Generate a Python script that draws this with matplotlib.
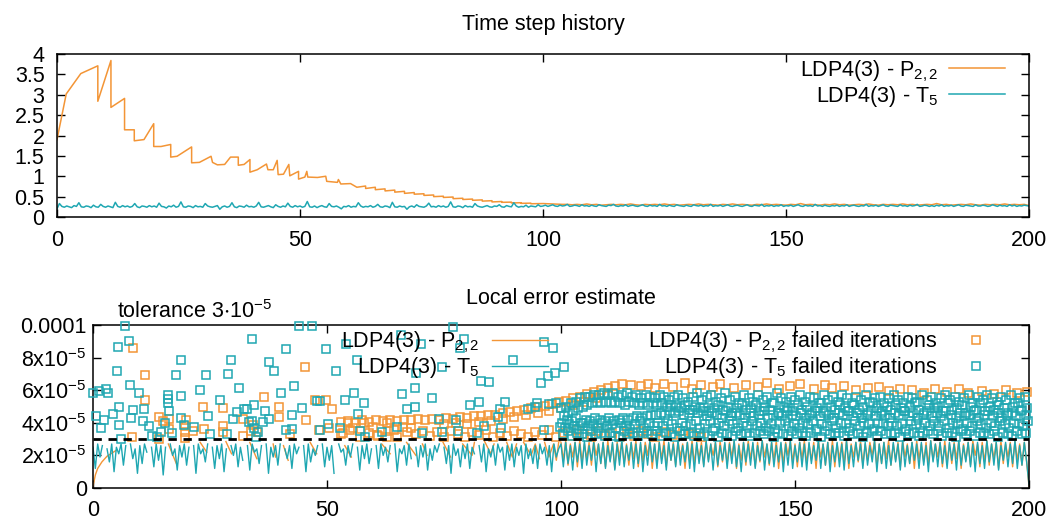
import numpy as np
import matplotlib
matplotlib.use('Agg')
import matplotlib.pyplot as plt

plt.rcParams['font.family'] = ['Liberation Sans', 'DejaVu Sans']
plt.rcParams['mathtext.fontset'] = 'custom'
plt.rcParams['mathtext.rm'] = 'Liberation Sans'
plt.rcParams['mathtext.it'] = 'Liberation Sans:italic'
plt.rcParams['mathtext.bf'] = 'Liberation Sans:bold'
plt.rcParams['mathtext.default'] = 'regular'

# ---------------- data: time step history ----------------
# P2,2 : (t, dt) vertices of the sawtooth
p22_dt_pts = [
    (0.0, 1.90), (1.9, 3.02), (4.9, 3.52), (8.4, 3.71), (8.4, 2.84), (11.1, 3.84), (11.1, 2.69),
    (13.9, 2.91), (13.9, 2.14), (15.9, 2.14), (15.9, 1.87), (17.9, 1.90), (19.9, 2.29), (19.9, 1.73),
    (21.4, 1.73), (23.4, 1.78), (23.4, 1.47), (24.7, 1.49), (27.7, 1.72), (27.7, 1.33), (29.3, 1.34),
    (31.7, 1.49), (32.0, 1.34), (33.0, 1.28), (34.5, 1.29), (35.7, 1.47), (37.3, 1.47), (37.3, 1.27),
    (38.5, 1.29), (39.7, 1.41), (39.7, 1.10), (41.2, 1.16), (43.1, 1.30), (43.4, 1.16), (44.5, 1.16),
    (45.3, 1.39), (45.5, 1.04), (46.6, 1.05), (47.7, 1.29), (47.9, 1.01), (49.7, 1.12), (49.7, 0.93),
    (51.0, 0.98), (51.4, 1.12), (51.6, 0.98), (53.6, 0.97), (55.3, 1.00), (55.5, 0.875), (57.7, 0.85),
    (57.9, 0.92), (58.4, 0.81), (60.4, 0.82), (61.7, 0.73), (63.5, 0.76), (63.5, 0.70), (65.5, 0.73),
    (65.5, 0.67), (67.5, 0.69), (67.5, 0.64), (69.5, 0.66), (69.5, 0.61), (71.5, 0.63), (71.5, 0.58),
    (73.5, 0.60), (73.5, 0.56), (75.5, 0.57), (75.5, 0.53), (77.5, 0.54), (77.5, 0.50), (79.5, 0.51),
    (79.5, 0.48), (81.5, 0.49), (81.5, 0.45), (83.5, 0.46), (83.5, 0.43), (85.5, 0.44), (85.5, 0.41),
    (87.5, 0.42), (87.5, 0.39), (89.5, 0.40), (89.5, 0.37), (91.5, 0.38), (91.5, 0.36), (93.5, 0.365),
    (93.5, 0.345), (95.5, 0.35), (95.5, 0.335), (97.5, 0.34), (97.5, 0.325), (100.0, 0.33),
    (102.0, 0.32), (104.0, 0.31)]
# P2,2 dt (x100) for t = 105 ... 200
p22_dt_tail = [
    31, 30, 31, 30, 32, 30, 31, 29, 30, 31, 30, 31, 30, 32, 30, 29, 31, 30, 31, 30,
    32, 30, 31, 29, 30, 31, 30, 32, 30, 31, 30, 29, 31, 30, 32, 30, 31, 30, 29, 31,
    30, 32, 30, 31, 30, 29, 31, 30, 33, 30, 31, 30, 29, 31, 30, 32, 30, 31, 29, 30,
    31, 30, 32, 30, 29, 31, 30, 31, 30, 32, 30, 31, 29, 30, 31, 30, 33, 30, 31, 29,
    30, 31, 30, 32, 30, 29, 31, 30, 31, 30, 32, 30, 31, 30, 31, 28]
# T5 dt (x100), every 0.5 time units from 0 to 200
t5_dt = [
    20, 33, 26, 24, 27, 25, 23, 28, 26, 35, 25, 24, 27, 26, 23, 29, 25, 24, 31, 26,
    24, 27, 25, 23, 36, 26, 24, 28, 25, 27, 24, 26, 33, 25, 23, 27, 26, 24, 28, 25,
    27, 24, 34, 26, 25, 22, 27, 25, 29, 24, 26, 37, 25, 24, 27, 26, 23, 28, 25, 26,
    24, 33, 27, 25, 24, 26, 28, 19, 25, 27, 24, 26, 35, 25, 23, 27, 26, 24, 29, 25,
    26, 24, 27, 36, 25, 24, 26, 28, 25, 23, 30, 26, 24, 27, 25, 34, 26, 24, 28, 25,
    27, 24, 26, 38, 25, 24, 27, 23, 26, 28, 25, 24, 33, 26, 25, 27, 24, 20, 26, 25,
    28, 24, 26, 25, 35, 27, 24, 26, 25, 28, 24, 26, 31, 25, 24, 27, 26, 23, 36, 25,
    24, 27, 25, 26, 19, 25, 27, 24, 30, 26, 25, 24, 27, 34, 25, 26, 24, 28, 25, 27,
    24, 26, 37, 25, 24, 27, 26, 23, 28, 25, 26, 24, 33, 27, 25, 24, 26, 28, 25, 24,
    27, 26, 30, 25, 24, 28, 26, 25, 35, 27, 24, 26, 25, 29, 24, 27, 26, 25, 30, 26,
    27, 29, 26, 28, 30, 27, 26, 29, 27, 28, 31, 26, 27, 29, 28, 26, 30, 27, 28, 26,
    29, 27, 26, 30, 28, 27, 26, 29, 28, 31, 27, 26, 28, 27, 30, 26, 28, 29, 27, 26,
    28, 30, 27, 26, 29, 27, 28, 26, 31, 27, 28, 26, 29, 27, 26, 30, 28, 27, 26, 29,
    27, 26, 30, 28, 27, 29, 26, 28, 27, 31, 26, 28, 27, 29, 26, 28, 30, 27, 26, 28,
    29, 27, 26, 28, 30, 27, 26, 29, 28, 27, 31, 26, 28, 27, 29, 26, 28, 27, 30, 26,
    28, 27, 29, 26, 28, 30, 27, 26, 29, 27, 28, 26, 31, 27, 28, 26, 29, 27, 26, 28,
    27, 29, 26, 28, 27, 30, 26, 28, 29, 27, 26, 28, 27, 31, 26, 28, 27, 29, 26, 28,
    30, 27, 26, 29, 28, 27, 26, 30, 27, 28, 26, 29, 27, 28, 31, 26, 27, 29, 28, 26,
    28, 26, 29, 27, 30, 26, 28, 27, 29, 26, 28, 30, 27, 26, 29, 28, 27, 26, 30, 27,
    27, 29, 28, 26, 27, 30, 28, 26, 29, 27, 28, 26, 30, 27, 29, 26, 28, 27, 29, 28, 27]

# ---------------- data: local error estimate (units of 1e-6) ----------------
tolerance = 3e-5
p22_err_segments = [
    [(0, 1), (0.5, 8), (1, 12), (1.9, 16), (3, 19.5), (4.9, 23)],
    [(16.1, 27), (17.8, 15)], [(22.9, 28), (24.3, 22)], [(28.4, 28.5), (29.6, 21)],
    [(33.5, 28), (35, 18)], [(38.5, 27), (39, 19)], [(40.7, 26), (41.7, 17)],
    [(46.4, 28), (47.8, 21)], [(53.8, 26), (55.2, 19)], [(61.7, 27), (63.5, 21)],
    [(67, 28), (69, 20)], [(70.4, 27), (71.4, 20)], [(74.8, 28), (76.4, 19)],
    [(79, 27), (81, 20), (81.5, 28)], [(83.6, 29), (85, 21), (85.7, 27)],
    [(88.4, 28), (89.6, 19), (90.5, 27)], [(92, 28), (93.6, 20), (94.5, 27), (95.4, 18)],
    [(96.5, 28), (97.4, 19), (98.4, 27), (99, 17), (99.5, 28)]]
# P2,2 error, every 0.5 from t = 100 to 200
p22_err_tail = [
    28, 17, 29, 14, 27, 19, 28, 13, 29, 16, 27, 18, 28, 14, 29, 20, 27, 15, 28, 13,
    29, 17, 27, 12, 28, 19, 29, 15, 27, 14, 28, 18, 29, 13, 27, 16, 28, 20, 29, 12,
    27, 15, 28, 18, 29, 13, 27, 17, 28, 14, 29, 19, 27, 12, 28, 16, 29, 15, 27, 18,
    28, 14, 29, 17, 27, 20, 28, 13, 29, 16, 27, 15, 28, 19, 29, 12, 27, 17, 28, 14,
    29, 18, 27, 13, 28, 16, 29, 19, 27, 14, 28, 17, 29, 12, 27, 15, 28, 20, 29, 16,
    27, 13, 28, 18, 29, 15, 27, 17, 28, 12, 29, 19, 27, 14, 28, 16, 29, 13, 27, 18,
    28, 15, 29, 12, 27, 19, 28, 16, 29, 14, 27, 17, 28, 20, 29, 13, 27, 15, 28, 18,
    29, 14, 27, 17, 28, 13, 29, 19, 27, 15, 28, 12, 29, 18, 27, 16, 28, 14, 29, 17,
    27, 19, 28, 13, 29, 16, 27, 15, 28, 18, 29, 12, 27, 17, 28, 14, 29, 20, 27, 13,
    28, 16, 29, 14, 27, 18, 28, 12, 29, 15, 27, 19, 28, 13, 29, 17, 27, 14, 28, 16, 1]
# T5 error, every 0.5 from t = 0 to 200 (None = no accepted value)
t5_err = [
    25, 12, 27, 19, 26, None, 24, 16, 27, 10, 25, 21, 27, 14, 26, None, 27, 18, 24, 9,
    26, 15, 27, 22, None, 25, 13, 27, 17, 26, 8, 25, None, 27, 20, 24, 11, 26, 19, 27,
    14, 25, None, 26, 9, 27, 21, 24, 16, 27, None, 25, 12, 26, 18, 27, 10, 24, None, 26,
    20, 27, 13, 25, 17, None, 26, 11, 27, 22, 24, 15, 26, None, 27, 9, 25, 19, 26, 14,
    27, None, 24, 18, 26, 12, 27, 21, 25, None, 26, 10, 27, 16, 24, 20, 26, None, 27, 13,
    25, 17, 26, 9, None, 27, 22, 24, 14, 26, 19, 27, None, 25, 11, 26, 18, 27, 15, 24,
    None, 26, 12, 27, 20, 25, 16, 26, None, 27, 10, 24, 21, 26, 14, 27, 18, None, 25, 13,
    26, 19, 27, 11, 24, 17, 26, 22, 27, None, 25, 15, 26, 9, 27, 20, 24, 13, 26, 18,
    27, 12, 25, 21, None, 26, 16, 27, 10, 24, 19, 26, 14, 27, 22, 25, 11, 26, 17, 27,
    13, 25, 20, 26, 9, 27, 18, 24, 15, 26, 12, 27, 21, 25, 14, 26, 10, 27, 19, 24,
    27, 13, 28, 15, 26, 11, 28, 16, 27, 12, 29, 14, 26, 17, 28, 10, 27, 15, 28, 12,
    26, 16, 28, 11, 27, 14, 29, 13, 26, 17, 28, 12, 27, 15, 28, 10, 26, 14, 29, 16,
    27, 12, 28, 15, 26, 11, 28, 17, 27, 13, 29, 14, 26, 16, 28, 12, 27, 10, 28, 15,
    26, 13, 29, 16, 27, 11, 28, 14, 26, 17, 28, 12, 27, 15, 29, 13, 26, 10, 28, 16,
    27, 14, 28, 12, 26, 17, 29, 11, 27, 15, 28, 13, 26, 16, 28, 10, 27, 14, 29, 12,
    26, 16, 28, 13, 27, 11, 28, 15, 26, 17, 29, 12, 27, 14, 28, 10, 26, 16, 28, 13,
    27, 11, 29, 15, 26, 13, 28, 17, 27, 12, 28, 14, 26, 16, 29, 10, 27, 15, 28, 12,
    26, 14, 28, 16, 27, 11, 29, 13, 26, 15, 28, 17, 27, 12, 28, 14, 26, 10, 29, 16,
    27, 13, 28, 15, 26, 12, 28, 17, 27, 11, 29, 14, 26, 16, 28, 13, 27, 10, 28, 15,
    26, 12, 29, 16, 27, 14, 28, 11, 26, 17, 28, 13, 27, 15, 29, 12, 26, 14, 28, 16, 2]

# failed iterations (t, err x1e6)
p22_fail_pts = [
    (8.3, 31.1), (8.5, 85.9), (11.1, 69.1), (11.2, 54), (14.1, 43.8), (14.2, 30.3), (14.9, 40.9),
    (16.2, 36.2), (16.3, 42.3), (19.7, 38.2), (19.7, 34.2), (19.7, 30.5), (19.9, 41.7), (21.3, 35),
    (23.4, 49.5), (23.8, 36.2), (27.7, 49.1), (27.8, 38.2), (27.8, 34.6), (32, 31.9), (32, 42.5),
    (33.8, 35.2), (34.1, 38.7), (35, 34.6), (36.5, 55.6), (39.7, 49.9), (39.7, 43.8), (42.1, 32.9),
    (45.4, 74), (45.5, 41.7), (47.5, 54), (48.3, 35.6), (49.7, 54.2), (50.4, 36.6), (51, 48.7),
    (53.5, 33.5), (54.4, 39.7), (55.5, 36.6), (57.9, 39.7), (59.9, 37.6), (60.6, 32.5),
    (62.8, 39.7), (62.8, 31.5), (64.3, 35.6), (66.3, 37.6), (68, 36.6),
    (53, 40.5), (54.5, 41), (56, 40), (57.5, 41.5), (59, 40.5), (60.5, 41.5), (62, 41), (63.5, 42),
    (65, 41), (66.5, 42), (68, 41.5), (69.5, 42.5), (71, 41.5), (72.5, 42.5), (74, 42), (75.5, 43),
    (77, 42.5), (78.5, 43.5), (80, 43), (81.5, 44), (83, 44), (84.5, 44.5), (86, 45), (87.5, 46),
    (89, 46.5), (90.5, 47.5), (92, 48), (93.5, 49), (95, 49.5), (96.5, 50.5), (98, 51.5),
    (99.5, 52.5), (101, 53.5), (102.5, 55), (104, 56), (105.5, 57.5), (107, 59), (108.5, 60),
    (110, 61.5), (111.5, 62.5), (113, 63.5),
    (75, 39.5), (77.5, 40), (80, 39.5), (82.5, 40.5), (85, 41), (87.5, 42.5), (90, 43.5),
    (92.5, 45), (95, 46), (97.5, 47.5), (100, 49), (102.5, 51), (105, 53), (107.5, 55.5), (110, 57.5),
    (53, 33), (55, 35.5), (57, 31.5), (59, 34), (61, 32), (63, 35), (65, 31.5), (67, 34.5),
    (69, 33), (70.5, 35), (72, 32), (73.5, 34.5), (75, 31.5), (76.5, 35), (78, 33), (79.5, 31),
    (81, 34.5), (82.5, 32.5), (84, 35.5), (85.5, 31.5), (87, 34), (88.5, 32), (90, 35), (91.5, 33),
    (93, 31), (94.5, 34.5), (96, 32.5), (97.5, 35.5), (99, 31.5), (100.5, 34), (102, 32),
    (103.5, 35.5), (105, 33), (106.5, 31.5), (108, 35), (109.5, 32.5), (111, 34), (112.5, 31.5),
    (114, 34.5), (115.5, 32), (117, 35), (118.5, 33), (120, 31.5), (122, 34.5), (124, 32.5),
    (126, 35), (128, 33), (130, 31.5),
    (115, 63), (117, 62.5), (118.5, 64), (120, 61.5), (122, 63.5), (124, 62), (126.5, 64.5),
    (128, 61), (130, 63), (132.5, 62), (134, 64), (137, 61.5), (139.5, 63), (142, 62), (144, 64.5),
    (146.5, 61), (149, 62.5), (151, 63.5), (154, 60.5), (156.5, 63), (158, 61.5), (160.5, 62.5),
    (163, 60), (165.5, 61.5), (168, 62), (170, 59.5), (172.5, 61), (175, 60), (177.5, 58.5),
    (180, 61), (182.5, 59), (185, 60.5), (187, 58), (190, 59.5), (192.5, 57.5), (195, 60),
    (197.5, 58.5), (199.5, 59)]

t5_fail_pts = [
    (0, 58), (0.7, 44), (1.35, 59.5), (1.8, 36.6), (2.3, 41.5), (2.7, 60.5), (3.1, 58.5), (4.3, 45.6),
    (5.05, 71.6), (5.3, 86.7), (5.5, 38.9), (5.6, 49.9), (6.05, 30), (6.77, 99.4), (7.6, 90.4),
    (7.9, 63.4), (8.2, 43.1), (8.5, 47.6), (9.9, 58.3), (10.7, 40.9), (10.8, 48.5), (11.9, 38),
    (12.5, 31.7), (13.7, 31.3), (14.5, 34.6), (15.3, 39.7), (16, 57), (16, 54.4), (16, 52),
    (16.3, 47.2), (16.8, 33.7), (17.8, 69.1), (18.7, 56.4), (18.9, 78.3), (18.9, 43.1), (19.4, 38.4),
    (21.5, 37.2), (22.8, 59.9), (24.2, 69.1), (24.5, 44), (25, 33.3), (27.2, 54), (28.6, 33.3),
    (28.8, 70.1), (29.5, 78.3), (30, 42.1), (30.7, 46.6), (31.3, 61.5), (32.3, 48.3), (33, 48.3),
    (33.3, 40.7), (34, 91.4), (34.4, 50.7), (34.4, 37), (34.8, 31.3), (35.2, 34.6),
    (33.9, 41.3), (36.3, 40.5), (36.8, 47.4), (37.6, 77.1), (37.7, 42.3), (38.7, 71.8), (40.2, 58.5),
    (41.2, 85.1), (41.2, 35.6), (42.6, 44.6), (42.6, 36.4), (42.9, 62.6), (44.1, 99.6), (44.7, 49.3),
    (46.8, 99.6), (47.8, 53.4), (48.4, 53.4), (48.6, 35.4), (49.8, 85.1), (50.3, 39.3), (51.9, 71.8),
    (52.7, 36.6), (53.8, 54), (54, 88.3), (55.8, 58), (56.5, 78.5), (56.7, 45.6), (57, 34.8),
    (57.9, 51.9), (58.1, 31.1), (61.7, 34.4), (64.9, 37.6), (65.8, 93.9), (66, 57.7), (67, 48.3),
    (68.7, 49.9), (68.7, 61.6), (69, 70.8), (70.1, 88.1), (70.3, 33.9), (72.5, 55), (73.9, 42.1),
    (74.5, 74), (74.6, 34.6), (76.9, 99), (77.6, 41.7), (77.9, 35.2), (78.4, 85.7), (79.3, 91.4),
    (80.6, 50.7), (82, 33.5), (82.4, 52.8), (82.9, 65.6), (83.6, 38), (84.7, 65.2), (86.6, 43.4),
    (86.9, 48.3), (87.2, 37), (88.1, 52.8), (89.7, 78.3), (93, 48.5), (94.5, 50), (94.9, 51.9),
    (95.7, 64.4), (96.3, 35.6), (96.4, 89.4), (97.3, 68.7), (97.5, 51.5), (98.2, 85.9), (98.8, 70.6),
    (99, 52), (99.8, 37.6), (100.6, 74.2)]

# dense T5 failed iterations, one value per unit t = 100 ... 199, in five bands
t5_fail_hi = [
    49, 50, 52, 53, 55, 56, 56, 57, 57, 58, 57, 58, 56, 57, 58, 56, 57, 55, 57, 56,
    55, 57, 56, 54, 56, 57, 55, 53, 56, 58, 54, 56, 57, 53, 55, 58, 54, 56, 52, 57,
    55, 53, 57, 54, 56, 52, 58, 55, 53, 56, 54, 57, 53, 56, 55, 52, 57, 54, 56, 53,
    57, 55, 52, 56, 54, 57, 53, 55, 56, 52, 55, 57, 54, 52, 56, 55, 53, 57, 54, 56,
    52, 55, 57, 54, 56, 53, 55, 57, 52, 56, 54, 57, 55, 53, 56, 54, 57, 52, 55, 56]
t5_fail_hi2 = [
    44, 46, 47, 49, 50, 51, 52, 53, 52, 53, 52, 53, 52, 51, 53, 52, 51, 52, 51, 52,
    51, 52, 50, 51, 50, 49, 51, 48, 50, 49, 50, 47, 49, 51, 48, 50, 46, 49, 51, 48,
    49, 51, 47, 50, 48, 52, 46, 50, 49, 47, 51, 48, 50, 46, 49, 52, 47, 50, 48, 51,
    49, 47, 51, 48, 50, 46, 52, 49, 47, 50, 48, 51, 49, 47, 50, 52, 48, 46, 51, 49,
    50, 47, 52, 48, 49, 51, 46, 50, 48, 52, 47, 50, 48, 51, 49, 46, 50, 52, 48, 49]
t5_fail_mid = [
    40, 42, 41, 43, 40, 42, 41, 43, 42, 41, 43, 41, 42, 43, 42, 43, 44, 43, 44, 45,
    45, 46, 45, 47, 46, 47, 45, 46, 48, 46, 47, 44, 46, 45, 43, 47, 44, 46, 45, 43,
    46, 44, 45, 47, 43, 45, 46, 44, 47, 45, 44, 46, 43, 45, 47, 44, 46, 45, 43, 46,
    45, 47, 44, 46, 43, 45, 47, 44, 46, 45, 43, 46, 45, 47, 44, 46, 43, 45, 47, 44,
    46, 44, 47, 45, 43, 46, 44, 45, 47, 43, 45, 47, 44, 46, 43, 45, 46, 44, 47, 45]
t5_fail_lo2 = [
    37, 39, 38, 36, 40, 38, 39, 37, 40, 38, 39, 37, 40, 38, 36, 39, 41, 37, 40, 38,
    40, 38, 41, 39, 37, 40, 38, 39, 41, 37, 39, 41, 37, 40, 38, 41, 39, 37, 40, 38,
    41, 38, 40, 37, 39, 36, 40, 41, 38, 39, 37, 40, 39, 41, 36, 39, 38, 41, 37, 40,
    39, 37, 41, 38, 40, 39, 36, 40, 39, 38, 40, 38, 39, 36, 41, 39, 37, 40, 38, 41,
    38, 41, 37, 40, 39, 36, 40, 38, 41, 39, 37, 40, 38, 41, 39, 37, 40, 39, 38, 41]
t5_fail_lo = [
    33, 35, 32, 34, 33, 31, 35, 33, 34, 32, 34, 32, 31, 35, 33, 34, 32, 34, 35, 33,
    35, 32, 34, 33, 31, 35, 33, 34, 32, 34, 33, 32, 35, 31, 34, 33, 32, 35, 33, 34,
    32, 34, 35, 33, 35, 31, 34, 33, 32, 35, 33, 34, 32, 34, 35, 31, 35, 33, 34, 34,
    32, 35, 33, 34, 31, 34, 35, 32, 35, 33, 34, 34, 31, 35, 33, 34, 32, 34, 35, 33,
    35, 32, 34, 34, 31, 35, 33, 35, 32, 34, 34, 33, 35, 31, 34, 33, 32, 35, 33, 34]

x_ticks = [0, 50, 100, 150, 200]
dt_ticks = [0, 0.5, 1, 1.5, 2, 2.5, 3, 3.5, 4]
err_ticks = [0, 2e-5, 4e-5, 6e-5, 8e-5, 1e-4]
err_tick_labels = ['0', r'2x10$^{-5}$', r'4x10$^{-5}$', r'6x10$^{-5}$', r'8x10$^{-5}$', '0.0001']
lab_p22 = r'LDP4(3) - P$_{2,2}$'
lab_t5 = r'LDP4(3) - T$_5$'

# ---------------- style ----------------
FS = 15.5
C_P22 = '#f39536'
C_T5 = '#1fa7b2'
E = 1e-6

fig = plt.figure(figsize=(10.54, 5.24), dpi=100)
W, H = 1054.0, 524.0
ax1 = fig.add_axes([57 / W, 1 - 217 / H, 972 / W, 163 / H])
ax2 = fig.add_axes([93 / W, 1 - 488 / H, 936 / W, 163 / H])

leg_kw = dict(markerfirst=False, frameon=False, fontsize=FS, handlelength=2.6,
              handletextpad=0.5, labelspacing=0.0, borderpad=0, borderaxespad=0)

# ---- top panel
pt, pd = zip(*p22_dt_pts)
p22_t = list(pt) + list(105 + np.arange(len(p22_dt_tail)))
p22_d = list(pd) + [v / 100 for v in p22_dt_tail]
ax1.plot(p22_t, p22_d, color=C_P22, lw=1.1, label=lab_p22)
t5_t = np.arange(len(t5_dt)) * 0.5
ax1.plot(t5_t, np.array(t5_dt) / 100, color=C_T5, lw=1.1, label=lab_t5)
ax1.set_xlim(0, 200)
ax1.set_ylim(0, 4)
ax1.set_xticks(x_ticks)
ax1.set_yticks(dt_ticks)
ax1.set_yticklabels(['%g' % v for v in dt_ticks])
ax1.set_title('Time step history', fontsize=FS, pad=17)
ax1.legend(loc='upper right', bbox_to_anchor=(0.9753, 0.975), **leg_kw)

# ---- bottom panel
seg_t, seg_y = [], []
for seg in p22_err_segments:
    for (a, b) in seg:
        seg_t.append(a)
        seg_y.append(b)
    seg_t.append(np.nan)
    seg_y.append(np.nan)
p22_err_t = seg_t + list(100 + np.arange(len(p22_err_tail)) * 0.5)
p22_err_y = np.array(seg_y + list(p22_err_tail), dtype=float) * E
l_p22, = ax2.plot(p22_err_t, p22_err_y, color=C_P22, lw=1.0, zorder=2, label=lab_p22)
t5_err_arr = np.array(t5_err, dtype=float) * E
l_t5, = ax2.plot(np.arange(len(t5_err)) * 0.5, t5_err_arr, color=C_T5, lw=1.0, zorder=2.1,
                 label=lab_t5)

mk = dict(ls='none', marker='s', ms=5.6, mfc='none', mew=1.1, clip_on=False)
ft, fy = zip(*p22_fail_pts)
s_p22, = ax2.plot(ft, np.array(fy) * E, mec=C_P22, zorder=3, label=lab_p22 + ' failed iterations', **mk)
ft, fy = zip(*t5_fail_pts)
s_t5, = ax2.plot(ft, np.array(fy) * E, mec=C_T5, zorder=3.1, label=lab_t5 + ' failed iterations', **mk)
for row, shift in ((t5_fail_hi, 0.1), (t5_fail_hi2, 0.6), (t5_fail_mid, 0.3),
                   (t5_fail_lo2, 0.8), (t5_fail_lo, 0.45)):
    ax2.plot(100 + np.arange(len(row)) + shift, np.array(row) * E, mec=C_T5, zorder=3.1, **mk)

ax2.axhline(tolerance, color='black', lw=2.0, dashes=(3.0, 2.4), zorder=4)
ax2.set_xlim(0, 200)
ax2.set_ylim(0, 1e-4)
ax2.set_xticks(x_ticks)
ax2.set_yticks(err_ticks)
ax2.set_yticklabels(err_tick_labels)
ax2.set_title('Local error estimate', fontsize=FS, pad=15)
ax2.text(0.0253, 1.043, r'tolerance 3$\cdot$10$^{-5}$', transform=ax2.transAxes,
         ha='left', va='baseline', fontsize=FS)

leg_a = ax2.legend(handles=[l_p22, l_t5], loc='upper right', bbox_to_anchor=(0.486, 0.97),
                   **dict(leg_kw, handletextpad=0.6))
ax2.add_artist(leg_a)
ax2.legend(handles=[s_p22, s_t5], loc='upper right', bbox_to_anchor=(0.9733, 0.97), **leg_kw)

for ax in (ax1, ax2):
    ax.tick_params(direction='in', length=6, width=1, top=True, right=True, labelsize=FS)
    ax.tick_params(axis='x', pad=9)
    for s in ax.spines.values():
        s.set_linewidth(1.1)
ax1.tick_params(axis='y', pad=9)
ax2.tick_params(axis='y', pad=4.5)

fig.savefig('out.png', dpi=100)
